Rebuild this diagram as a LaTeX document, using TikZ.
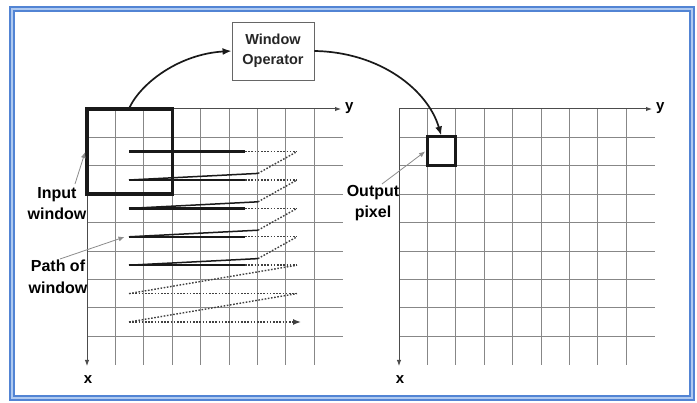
\documentclass[tikz,border=0pt]{standalone}
\usepackage{fontspec}
\setmainfont{Liberation Sans}
\usetikzlibrary{arrows.meta}
\definecolor{frameblue}{RGB}{82,132,212}
\definecolor{framelight}{RGB}{176,202,240}
\definecolor{gridgray}{RGB}{135,135,135}
\tikzset{
  gridline/.style={draw=gridgray, line width=0.9pt},
  axisline/.style={draw=black!70, line width=1pt, -{Latex[length=6pt,width=4.5pt]}},
  axislabel/.style={font=\fontsize{15}{18}\selectfont\bfseries, inner sep=0pt},
  label/.style={font=\fontsize{16}{21.5}\selectfont\bfseries, align=center, inner sep=0pt},
  opbox/.style={draw=black!60, line width=0.8pt, minimum width=82pt, minimum height=58pt, align=center, font=\fontsize{14.5}{19.5}\selectfont\bfseries, text=black!85},
  thickwin/.style={draw=black!90, line width=3.4pt, inner sep=0pt},
  bigarrow/.style={draw=black!90, line width=1.7pt, -{Latex[length=9pt,width=7pt]}},
  pointer/.style={draw=black!45, line width=0.8pt, -{Latex[length=6pt,width=5pt]}, shorten >=0.5pt},
  pathsolid/.style={draw=black!90, line width=2.4pt},
  pathdiag/.style={draw=black!90, line width=1.5pt},
  pathdot/.style={draw=black!75, line width=1.4pt, dash pattern=on 1.6pt off 1.6pt},
}
\begin{document}
\begin{tikzpicture}[x=1pt,y=-1pt]
\useasboundingbox (0,0) rectangle (697,403);
% frame
\fill[frameblue] (9,6) rectangle (695,401);
\fill[framelight] (11,8) rectangle (693,399);
\fill[frameblue] (13,10) rectangle (691,397);
\fill[white] (15,12) rectangle (689,395);

% grids
\foreach \ox in {87,399} {
  \foreach \k in {1,...,8} \draw[gridline] (\ox+28.4*\k,109) -- (\ox+28.4*\k,365);
  \foreach \j in {1,...,8} \draw[gridline] (\ox,109+28.4*\j) -- (\ox+255.6,109+28.4*\j);
}
% axes
\coordinate (lo) at (87,109);
\coordinate (ly) at (341,109);
\coordinate (lx) at (87,366);
\coordinate (ro) at (399,109);
\coordinate (ry) at (652,109);
\coordinate (rx) at (399,366);
\draw[axisline] (lo) -- (ly);
\draw[axisline] (lo) -- (lx);
\draw[axisline] (ro) -- (ry);
\draw[axisline] (ro) -- (rx);
\node[axislabel, anchor=west] (lyl) at (345,108) {y};
\node[axislabel] (lxl) at (88,380) {x};
\node[axislabel, anchor=west] (ryl) at (656,108) {y};
\node[axislabel] (rxl) at (400,380) {x};

% path of window
\foreach \r in {1,...,5} {
  \draw[pathsolid] (129,151.6+28.4*\r-28.4) -- (245,151.6+28.4*\r-28.4);
  \draw[pathdot] (245,151.6+28.4*\r-28.4) -- (297,151.6+28.4*\r-28.4);
}
\foreach \r in {1,...,4} {
  \draw[pathdiag] (129,151.6+28.4*\r) -- (258,151.6+28.4*\r-28.4*0.232);
  \draw[pathdot] (258,151.6+28.4*\r-28.4*0.232) -- (297,151.6+28.4*\r-28.4);
}
\draw[pathdot] (129,293.6) -- (297,265.2);
\draw[pathdot] (129,293.6) -- (297,293.6);
\draw[pathdot] (129,322) -- (297,293.6);
\draw[pathdot, -{Latex[length=8pt,width=6pt]}] (129,322) -- (301,322);

% window, operator, output pixel
\node[thickwin, minimum width=85.2pt, minimum height=85.2pt] (win) at (129.6,151.6) {};
\node[thickwin, minimum width=28.4pt, minimum height=28.4pt, line width=3pt] (pix) at (441.2,151.2) {};
\node[opbox] (op) at (273,51) {Window\\Operator};
\draw[bigarrow] (win.north) .. controls (142,82) and (180,54) .. (op.west);
\draw[bigarrow] (op.east) .. controls (380,52) and (428,90) .. (pix.north);

% labels
\node[label, anchor=base] (inlab) at (57,220) {Input\\window};
\node[label, anchor=base] (pathlab) at (58,293.5) {Path of\\window};
\node[label, anchor=base] (outlab) at (373,218) {Output\\pixel};
\coordinate (inp) at (75,184);
\coordinate (pathp) at (60,259);
\coordinate (patht) at (125,236.8);
\coordinate (outp) at (382,184);
\draw[pointer] (inp) -- (win.west);
\draw[pointer] (pathp) -- (patht);
\draw[pointer] (outp) -- (pix.west);
\end{tikzpicture}
\end{document}
